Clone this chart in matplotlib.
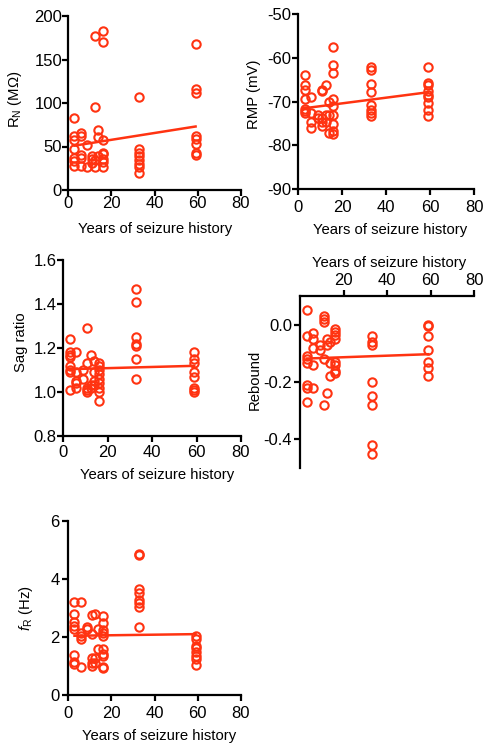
import matplotlib
matplotlib.use("Agg")
import matplotlib.pyplot as plt
import numpy as np

plt.rcParams['font.family'] = ['Liberation Sans', 'DejaVu Sans']
plt.rcParams['mathtext.fontset'] = 'custom'
plt.rcParams['mathtext.rm'] = 'Liberation Sans'
plt.rcParams['mathtext.it'] = 'Liberation Sans:italic'
plt.rcParams['font.size'] = 10

# ---- data (years of seizure history per recorded cell group) ----
years = [3, 6, 9, 11, 12.5, 14, 16, 33, 59]

rn = [[83, 62, 57, 47, 37, 33, 28],
      [65, 62, 40, 37, 28],
      [52, 27],
      [39, 36, 31],
      [177, 95, 35, 27],
      [69, 61, 39],
      [183, 170, 58, 43, 41, 36, 32, 27],
      [107, 47, 43, 39, 34, 30, 27, 19],
      [168, 116, 111, 62, 59, 53, 43, 40]]

rmp = [[-63.9, -66.2, -67.3, -69.4, -71.6, -72.1, -72.6],
       [-68.9, -72.6, -74.6, -76.1],
       [-73.0, -73.8],
       [-67.3, -67.6, -73.8, -74.6, -75.6],
       [-66.2, -73.0, -74.6],
       [-70.0, -73.0, -77.2],
       [-57.5, -61.6, -63.5, -69.4, -71.0, -73.0, -75.1, -76.7, -77.4],
       [-62.2, -62.9, -66.0, -67.9, -70.8, -71.9, -72.7, -73.3],
       [-62.2, -65.7, -66.2, -67.5, -68.5, -68.9, -70.4, -71.9, -73.3]]

sag = [[1.24, 1.18, 1.17, 1.16, 1.12, 1.10, 1.09, 1.01],
       [1.18, 1.09, 1.05, 1.04, 1.02],
       [1.10, 1.06],
       [1.29, 1.13, 1.02, 1.01, 1.00],
       [1.17, 1.03, 1.02],
       [1.14, 1.09, 1.05, 1.03],
       [1.13, 1.12, 1.10, 1.08, 1.06, 1.04, 1.02, 1.00, 0.96],
       [1.47, 1.41, 1.25, 1.22, 1.21, 1.15, 1.06],
       [1.18, 1.15, 1.13, 1.09, 1.07, 1.02, 1.01, 1.00]]

rebound = [[0.05, -0.04, -0.11, -0.12, -0.135, -0.21, -0.22, -0.27],
           [-0.03, -0.05, -0.08, -0.14, -0.22],
           [-0.07, -0.09],
           [0.03, 0.02, 0.01, -0.12, -0.28],
           [-0.05, -0.07, -0.24],
           [-0.06, -0.135, -0.18],
           [-0.016, -0.025, -0.035, -0.05, -0.13, -0.14, -0.16, -0.17],
           [-0.04, -0.06, -0.07, -0.20, -0.25, -0.28, -0.42, -0.45],
           [0.0, -0.003, -0.04, -0.09, -0.13, -0.15, -0.18]]

fr = [[3.21, 2.79, 2.52, 2.37, 2.29, 1.38, 1.15, 1.07],
      [3.21, 2.15, 2.03, 1.92, 0.95],
      [2.35, 2.26],
      [2.75, 2.09, 1.29, 1.11, 1.00],
      [2.81, 1.29, 1.09],
      [2.26, 1.57],
      [2.72, 2.47, 2.24, 2.15, 2.03, 1.57, 1.43, 1.35, 0.98, 0.94],
      [4.85, 4.82, 3.64, 3.53, 3.27, 3.18, 3.02, 2.36],
      [2.04, 1.92, 1.69, 1.61, 1.49, 1.34, 1.23, 1.03]]

# linear-fit parameters (slope, intercept)
fit_rn = (0.393, 49.8)
fit_rmp = (0.065, -71.73)
fit_sag = (0.00027, 1.103)
fit_rebound = (0.00027, -0.119)
fit_fr = (0.001, 2.04)

RED = "#FF3311"
xlabel = "Years of seizure history"

fig = plt.figure(figsize=(4.83, 7.44), dpi=100)
W, H = 483, 744


def make_ax(x0, y0, x1, y1):
    return fig.add_axes([x0 / W, 1 - y1 / H, (x1 - x0) / W, (y1 - y0) / H])


def flatten(groups):
    xs, ys = [], []
    for x, g in zip(years, groups):
        xs += [x] * len(g)
        ys += list(g)
    return np.array(xs), np.array(ys)


def draw(ax, groups, fit, ylim, yticks, yticklabels, ylabel,
         ylab_pos, xlab_pos, xpad, ypad, top=False):
    xs, ys = flatten(groups)
    ax.plot(xs, ys, linestyle='none', marker='o', markersize=6.0,
            markerfacecolor='none', markeredgecolor=RED, markeredgewidth=1.5,
            clip_on=False, zorder=3)
    xl = np.array([xs.min(), xs.max()])
    ax.plot(xl, fit[0] * xl + fit[1], color=RED, linewidth=1.8, zorder=2)
    ax.set_xlim(0, 80)
    ax.set_ylim(*ylim)
    ax.set_yticks(yticks)
    ax.set_yticklabels(yticklabels)
    ax.set_ylabel(ylabel, fontsize=10.7, va='center')
    ax.yaxis.set_label_coords(*ylab_pos)
    for s in ['left', 'right', 'top', 'bottom']:
        ax.spines[s].set_linewidth(1.6)
        ax.spines[s].set_color('black')
    ax.spines['right'].set_visible(False)
    if top:
        ax.spines['bottom'].set_visible(False)
        ax.xaxis.tick_top()
        ax.xaxis.set_label_position('top')
        ax.set_xticks([20, 40, 60, 80])
        ax.tick_params(axis='x', top=True, bottom=False)
    else:
        ax.spines['top'].set_visible(False)
        ax.set_xticks([0, 20, 40, 60, 80])
    ax.set_xlabel(xlabel, fontsize=10.7, va='center')
    ax.xaxis.set_label_coords(*xlab_pos)
    ax.tick_params(axis='both', direction='out', length=4, width=1.6,
                   labelsize=12, colors='black')
    ax.tick_params(axis='x', pad=xpad)
    ax.tick_params(axis='y', pad=ypad)


ax1 = make_ax(68, 16, 241, 190)
draw(ax1, rn, fit_rn, (0, 200), [0, 50, 100, 150, 200],
     ['0', '50', '100', '150', '200'], r'R$_\mathrm{N}$ (M$\Omega$)',
     (-0.306, 0.523), (0.506, -0.224), 0.5, 0.3)

ax2 = make_ax(298, 14, 474, 189)
draw(ax2, rmp, fit_rmp, (-90, -50), [-90, -80, -70, -60, -50],
     ['-90', '-80', '-70', '-60', '-50'], 'RMP (mV)',
     (-0.252, 0.54), (0.526, -0.234), 3.6, 0.5)

ax3 = make_ax(63, 260, 241, 436)
draw(ax3, sag, fit_sag, (0.8, 1.6), [0.8, 1.0, 1.2, 1.4, 1.6],
     ['0.8', '1.0', '1.2', '1.4', '1.6'], 'Sag ratio',
     (-0.236, 0.534), (0.528, -0.222), 2.2, 0.5)

ax4 = make_ax(300, 296, 474, 468)
draw(ax4, rebound, fit_rebound, (-0.5, 0.1), [-0.4, -0.2, 0.0],
     ['-0.4', '-0.2', '0.0'], 'Rebound',
     (-0.261, 0.51), (0.512, 1.19), 2.0, 1.8, top=True)

ax5 = make_ax(68, 521, 241, 695)
draw(ax5, fr, fit_fr, (0, 6), [0, 2, 4, 6],
     ['0', '2', '4', '6'], r'$\it{f}$$_\mathrm{R}$ (Hz)',
     (-0.243, 0.5), (0.529, -0.236), 3.6, 2.0)

fig.savefig("out.png", dpi=100)
